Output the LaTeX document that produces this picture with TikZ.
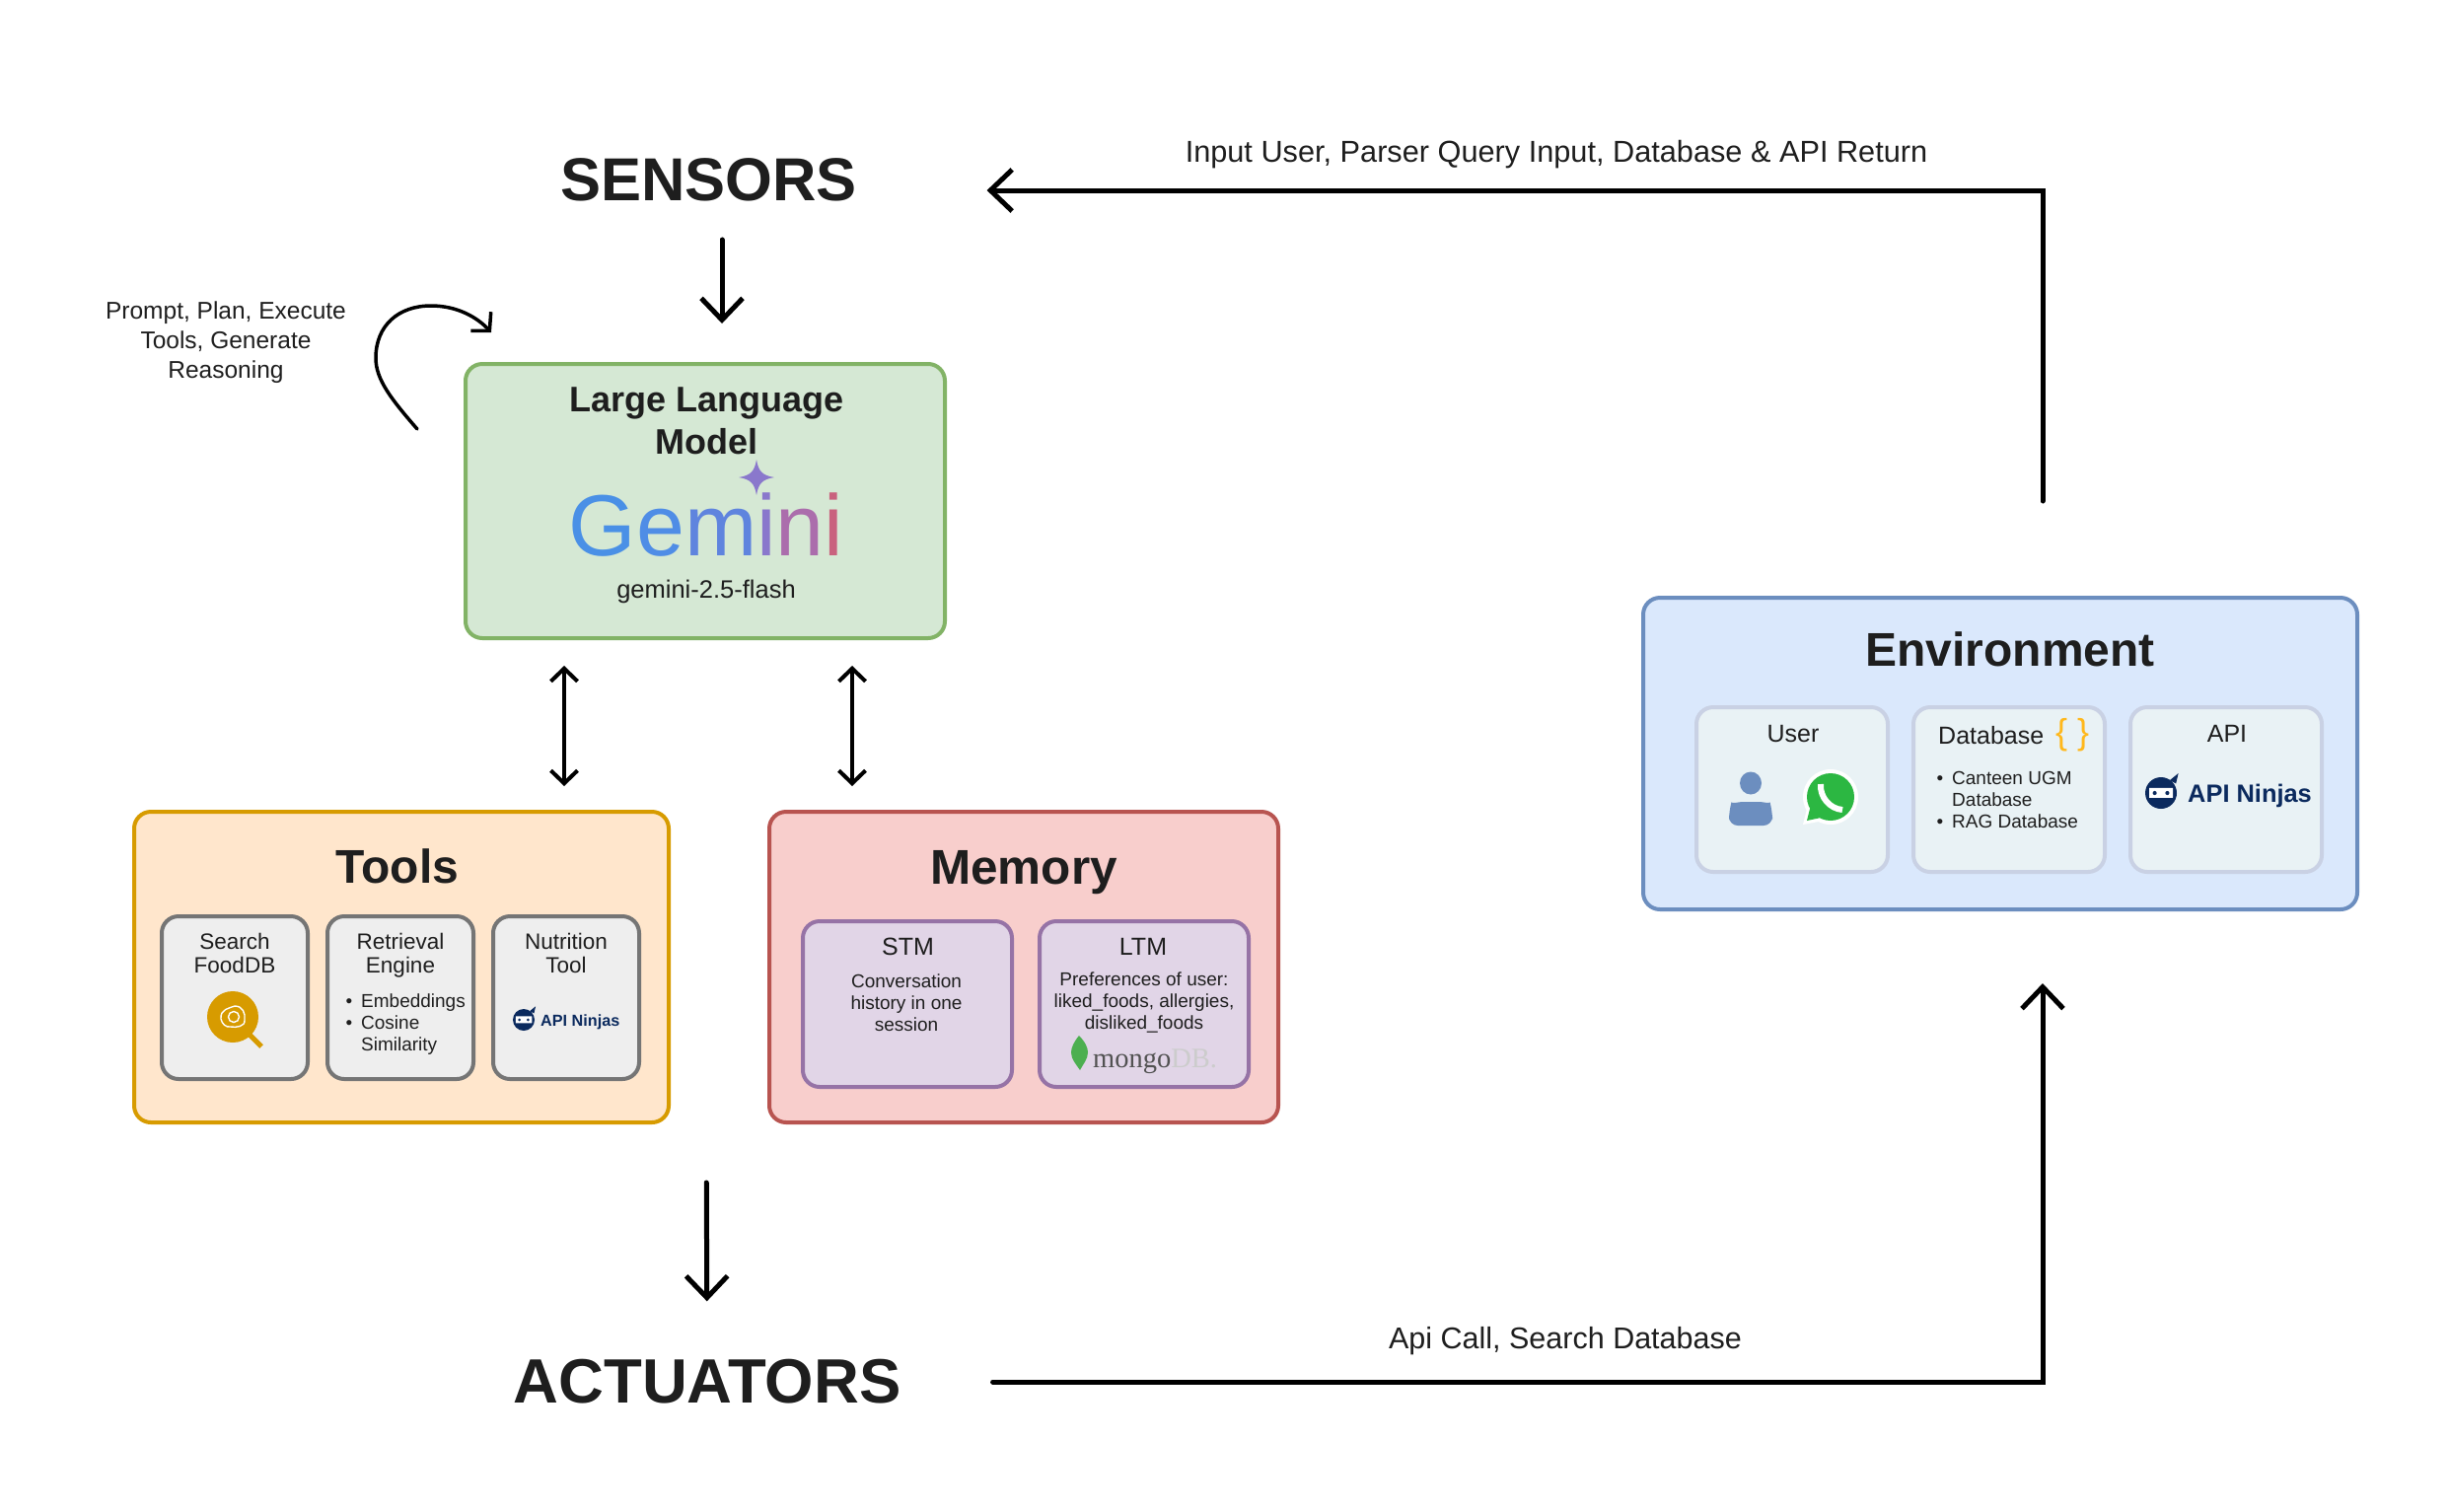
\documentclass[tikz,border=0pt]{standalone}
\usepackage{fontspec}
\usepackage{xcolor}
\usetikzlibrary{arrows.meta, positioning}
\setmainfont{Liberation Sans}
\newfontfamily\mongofont{Liberation Serif}

\definecolor{ink}{HTML}{1E1E1E}
\definecolor{navy}{HTML}{0B2A5E}
\definecolor{gemA}{HTML}{4A90E6}
\definecolor{gemB}{HTML}{4F8DE6}
\definecolor{gemC}{HTML}{5F84DE}
\definecolor{gemD}{HTML}{8A78CC}
\definecolor{gemE}{HTML}{AB6DAC}
\definecolor{gemF}{HTML}{C9627E}
\definecolor{llmFill}{HTML}{D5E8D4}
\definecolor{llmLine}{HTML}{82B366}
\definecolor{toolFill}{HTML}{FFE6CC}
\definecolor{toolLine}{HTML}{D79B00}
\definecolor{memFill}{HTML}{F8CECC}
\definecolor{memLine}{HTML}{B85450}
\definecolor{subFill}{HTML}{E1D5E7}
\definecolor{subLine}{HTML}{9673A6}
\definecolor{envFill}{HTML}{DAE8FC}
\definecolor{envLine}{HTML}{6C8EBF}
\definecolor{cardFill}{HTML}{E9F2F5}
\definecolor{cardLine}{HTML}{C9D1E4}
\definecolor{greyFill}{HTML}{EEEEEE}
\definecolor{greyLine}{HTML}{757575}
\definecolor{brace}{HTML}{FFB81C}
\definecolor{leaf}{HTML}{4CAF50}
\definecolor{chat}{HTML}{2CB742}
\newcommand{\fsize}[1]{\fontsize{#1}{1.2\dimexpr#1pt\relax}\selectfont}

\tikzset{
  ninja/.pic={
    \fill[navy] (0,0) circle (1);
    \fill[navy] (.55,-.8) -- (1.1,-1.25) -- (.95,-.6) -- cycle;
    \fill[white,rounded corners=.25] (-.75,-.32) rectangle (.75,.3);
    \fill[navy] (-.4,0) circle (.13) (.4,0) circle (.13);
  }
}

\begin{document}
\begin{tikzpicture}[x=1pt,y=-1pt,text=ink]
  \tikzstyle{panel}=[draw,rounded corners=17pt,line width=4pt,inner sep=0pt,outer sep=0pt]
  \tikzstyle{toolbox}=[panel,fill=greyFill,draw=greyLine,minimum width=148pt,minimum height=165pt]
  \tikzstyle{membox}=[panel,fill=subFill,draw=subLine,minimum width=212pt,minimum height=168pt]
  \tikzstyle{envbox}=[panel,fill=cardFill,draw=cardLine,minimum width=194pt,minimum height=167pt]
  \tikzstyle{big}=[inner sep=0pt,font=\fsize{61.5}\bfseries]
  \tikzstyle{title}=[inner sep=0pt,font=\fsize{48}\bfseries]
  \tikzstyle{label}=[inner sep=0pt,align=center,font=\fsize{30.7}]
  \tikzstyle{head}=[inner sep=0pt,align=center,font=\fontsize{22.5}{24}\selectfont]
  \tikzstyle{small}=[inner sep=0pt,align=center,font=\fontsize{19}{22}\selectfont]
  \tikzstyle{arrow}=[line width=5pt,line cap=round,line join=miter,-{Straight Barb[length=22pt,width=42pt,line width=5pt]}]
  \tikzstyle{thin arrow}=[line width=4pt,line cap=round,{Straight Barb[length=13pt,width=27pt,line width=4pt]}-{Straight Barb[length=13pt,width=27pt,line width=4pt]}]

  \useasboundingbox (0,0) rectangle (2482,1532);

  \node[big]                                       (sensors)   at (718.5,182)  {SENSORS};
  \node[big,font=\fsize{63.5}\bfseries]            (actuators) at (717,1401)   {ACTUATORS};

  % boxes
  \node[panel,fill=llmFill,draw=llmLine,minimum width=486pt,minimum height=278pt]  (llm)    at (715,508)    {};
  \node[panel,fill=toolFill,draw=toolLine,minimum width=542pt,minimum height=315pt] (tools)  at (407,980.5)  {};
  \node[panel,fill=memFill,draw=memLine,minimum width=516pt,minimum height=315pt]  (memory) at (1038,980.5) {};
  \node[panel,fill=envFill,draw=envLine,minimum width=724pt,minimum height=316pt]  (env)    at (2028,764)   {};

  \node[toolbox] (food)  at (238,1011.5)  {};
  \node[toolbox] (rag)   at (406,1011.5)  {};
  \node[toolbox] (nutri) at (574,1011.5)  {};
  \node[membox]  (stm)   at (920,1018)    {};
  \node[membox]  (ltm)   at (1160,1018)   {};
  \node[envbox]  (user)  at (1817,800.5)  {};
  \node[envbox]  (db)    at (2037,800.5)  {};
  \node[envbox]  (api)   at (2257,800.5)  {};

  % llm box
  \node[inner sep=0pt,align=center,font=\fontsize{36}{43}\selectfont\bfseries] (llm_title) at (716.5,427) {Large Language\\Model};
  \node[inner sep=0pt,anchor=base,font=\fsize{88}] (gemini) at (716,563)
    {\textcolor{gemA}{G}\textcolor{gemB}{e}\textcolor{gemC}{m}\textcolor{gemD}{i}\textcolor{gemE}{n}\textcolor{gemF}{i}};
  \fill[gemD] (767,466) .. controls (769,478) and (773,482) .. (785,484)
              .. controls (773,486) and (769,490) .. (767,502)
              .. controls (765,490) and (761,486) .. (749,484)
              .. controls (761,482) and (765,478) .. (767,466) -- cycle;
  \node[inner sep=0pt,font=\fsize{25.5}] (llm_model) at (716,599.5) {gemini-2.5-flash};

  % tools box
  \node[title] (tools_title) at (403,878) {Tools};
  \node[head]  (food_title)  at (238,966) {Search\\FoodDB};
  \node[head]  (rag_title)   at (406,969) {Retrieval\\Engine};
  \node[head]  (nutri_title) at (574,966) {Nutrition\\Tool};
  \node[small,anchor=west,align=left] (rag_list) at (366,1039)
    {\llap{\textbullet\hspace{9pt}}Embeddings\\\llap{\textbullet\hspace{9pt}}Cosine\\Similarity};
  \draw[toolLine,line width=5pt] (250,1046) -- (265,1061);
  \fill[toolLine] (236,1031) circle (26);
  \draw[white,line width=1.4pt] (224,1033) .. controls (223,1023) and (233,1022) .. (238,1020)
        .. controls (246,1020) and (249,1027) .. (248,1034)
        .. controls (249,1041) and (239,1042) .. (234,1041)
        .. controls (229,1042) and (225,1038) .. (224,1033) -- cycle;
  \draw[white,line width=1.4pt] (237,1031) circle (5.5);
  \pic[scale=11] at (531,1034) {ninja};
  \node[inner sep=0pt,anchor=west,text=navy,font=\fsize{16.2}\bfseries] (ninja_a) at (548,1036.5) {API Ninjas};

  % memory box
  \node[title,font=\fsize{49.5}\bfseries] (memory_title) at (1038,885) {Memory};
  \node[label,font=\fsize{25}] (stm_title) at (920.5,960) {STM};
  \node[label,font=\fsize{25}] (ltm_title) at (1159,960)  {LTM};
  \node[small] (stm_text) at (919,1017)  {Conversation\\history in one\\session};
  \node[small] (ltm_text) at (1160,1016) {Preferences of user:\\liked\_foods, allergies,\\disliked\_foods};
  \fill[leaf] (1094,1050) .. controls (1100,1056) and (1103,1062) .. (1103,1067)
        .. controls (1103,1074) and (1098,1079) .. (1095,1085)
        .. controls (1091,1079) and (1086,1074) .. (1086,1067)
        .. controls (1086,1062) and (1089,1056) .. (1094,1050) -- cycle;
  \node[inner sep=0pt,anchor=base west,font=\mongofont\fsize{28.5}] (mongo) at (1108,1082)
    {\textcolor{black!68}{mongo}\textcolor{black!20}{DB.}};

  % environment box
  \node[title] (env_title) at (2038,658) {Environment};
  \node[label,font=\fsize{25}] (user_title) at (1818,744) {User};
  \node[label,font=\fsize{25},anchor=west] (db_title) at (1965,746) {Database};
  \node[label,font=\fsize{36},text=brace] (db_open) at (2090,745) {\{};
  \node[label,font=\fsize{36},text=brace] (db_shut) at (2112,745) {\}};
  \node[label,font=\fsize{25}] (api_title) at (2258,744) {API};
  \fill[envLine] (1775,794) ellipse (11 and 11.5);
  \fill[envLine,rounded corners=9pt] (1753,837) -- (1753,822) .. controls (1755,815) and (1765,813) .. (1775,813) .. controls (1787,813) and (1795,815) .. (1797,822) -- (1797,837) -- cycle;
  \fill[white] (1856,808) circle (28) (1828,836) -- (1834,812) -- (1849,832) -- cycle;
  \fill[chat] (1856,808) circle (24) (1832,832) -- (1837,812) -- (1851,828) -- cycle;
  \draw[white,line width=6pt] (1846,795) .. controls (1845,808) and (1855,820) .. (1868,821);
  \node[small,anchor=west,align=left] (db_list) at (1979,811)
    {\llap{\textbullet\hspace{9pt}}Canteen UGM\\Database\\\llap{\textbullet\hspace{9pt}}RAG Database};
  \pic[scale=16] at (2191,804) {ninja};
  \node[inner sep=0pt,anchor=west,text=navy,font=\fsize{25.4}\bfseries] (ninja_b) at (2218,807) {API Ninjas};

  % labels
  \node[label] (in_label)  at (1578,157)  {Input User, Parser Query Input, Database \& API Return};
  \node[label,font=\fsize{30.5}] (out_label) at (1587,1360) {Api Call, Search Database};
  \node[label,font=\fontsize{24.5}{30}\selectfont] (loop_label) at (229,347) {Prompt, Plan, Execute\\Tools, Generate\\Reasoning};

  % connectors
  \path[arrow,shorten <=39pt,shorten >=41pt]
  ([xshift=13.5pt]sensors.south) edge ([xshift=17pt]llm.north)
  ;
  \path[arrow,shorten <=61pt,shorten >=59pt]
  ([xshift=309pt]tools.south) edge (actuators.north)
  ;
  \path[thin arrow,shorten <=28pt,shorten >=26pt]
  ([xshift=-143pt]llm.south) edge ([xshift=165pt]tools.north)
  ([xshift=149pt]llm.south)  edge ([xshift=-174pt]memory.north)
  ;
  \draw[arrow] ([xshift=43pt,yshift=98pt]env.north) |- ([xshift=131.5pt,yshift=-11pt]sensors.east);
  \draw[arrow] ([xshift=93pt]actuators.east) -| ([xshift=43pt,yshift=-75pt]env.south);

  \coordinate (loop_a) at ([xshift=-49pt,yshift=-66pt]llm.north west);
  \coordinate (loop_b) at ([xshift=26pt,yshift=32pt]llm.north west);
  \draw[line width=3.5pt,line cap=round,-{Straight Barb[length=13pt,width=28pt,line width=3.5pt]}]
    (loop_a) .. controls (397,405) and (381,385) .. (381,363)
    .. controls (381,330) and (404,310) .. (437,310)
    .. controls (464,310) and (484,322) .. (loop_b);
\end{tikzpicture}
\end{document}
